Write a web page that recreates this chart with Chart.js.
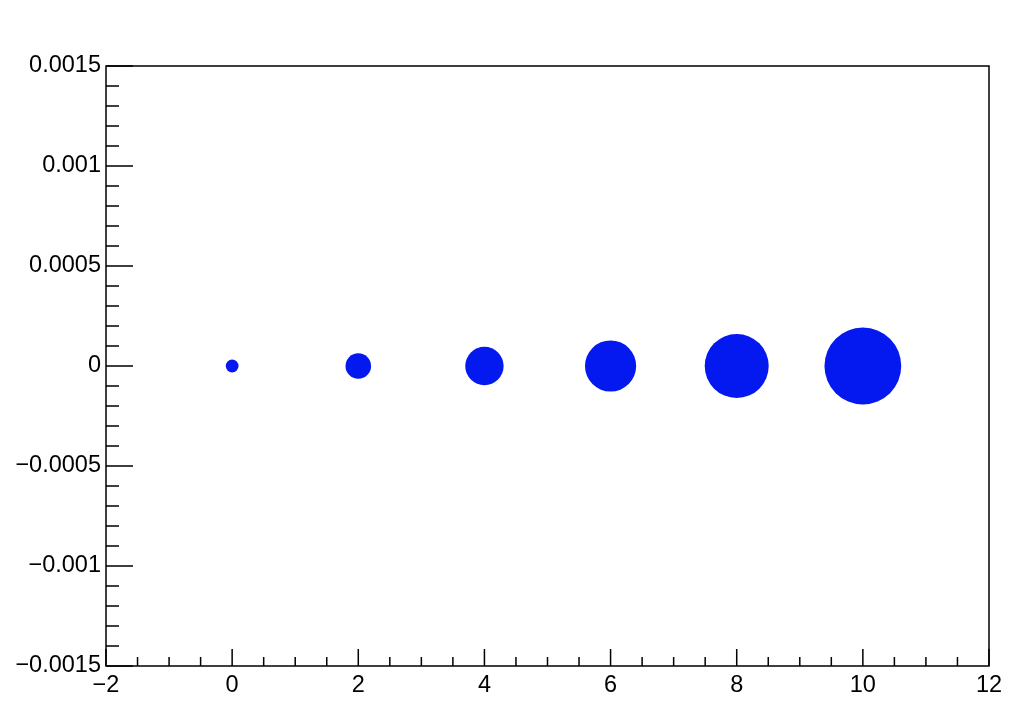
<!DOCTYPE html>
<html>
<head>
<meta charset="utf-8">
<script src="https://cdn.jsdelivr.net/npm/chart.js@4"></script>
<style>
  html, body { margin: 0; padding: 0; background: #fff; }
  #wrap { width: 1033px; height: 714px; }
</style>
</head>
<body>
<div id="wrap"><canvas id="chart" width="1033" height="714"></canvas></div>
<script>
// Bubble data
const xValues = [0, 2, 4, 6, 8, 10];
const yValues = [0, 0, 0, 0, 0, 0];
const radii = [6.4, 12.8, 19.2, 25.6, 32, 38.4];

// Axis ticks
const xTicks = [-2, 0, 2, 4, 6, 8, 10, 12];
const xTickLabels = ['\u22122', '0', '2', '4', '6', '8', '10', '12'];
const yTicks = [-0.0015, -0.001, -0.0005, 0, 0.0005, 0.001, 0.0015];
const yTickLabels = ['\u22120.0015', '\u22120.001', '\u22120.0005', '0', '0.0005', '0.001', '0.0015'];

const FONT = { family: '"Liberation Sans", Arial, Helvetica, sans-serif', size: 23.5 };
const BLUE = 'rgb(4,24,240)';

// ROOT-style inner ticks + frame
const frameTicks = {
  id: 'frameTicks',
  afterDraw(chart) {
    const { ctx, chartArea: a, scales } = chart;
    ctx.save();
    ctx.strokeStyle = '#000';
    ctx.lineWidth = 1.5;
    ctx.strokeRect(a.left, a.top, a.right - a.left, a.bottom - a.top);
    ctx.beginPath();
    // y ticks: major every 0.0005, minor every 0.0001
    for (let i = -15; i <= 15; i++) {
      const y = scales.y.getPixelForValue(i * 0.0001);
      const len = i % 5 === 0 ? 27 : 13;
      ctx.moveTo(a.left, y);
      ctx.lineTo(a.left + len, y);
    }
    // x ticks: major every 2, minor every 0.5
    for (let i = -4; i <= 24; i++) {
      const x = scales.x.getPixelForValue(i * 0.5);
      const len = i % 4 === 0 ? 17 : 9;
      ctx.moveTo(x, a.bottom);
      ctx.lineTo(x, a.bottom - len);
    }
    ctx.stroke();
    ctx.restore();
  }
};

const ctx = document.getElementById('chart').getContext('2d');
new Chart(ctx, {
  type: 'bubble',
  data: {
    datasets: [{
      data: xValues.map((x, i) => ({ x: x, y: yValues[i], r: radii[i] })),
      backgroundColor: BLUE,
      borderWidth: 0,
      hoverRadius: 0
    }]
  },
  options: {
    responsive: false,
    animation: false,
    layout: { padding: { top: 66, right: 44, left: 0, bottom: 0 } },
    plugins: { legend: { display: false }, tooltip: { enabled: false } },
    scales: {
      x: {
        type: 'linear',
        min: -2, max: 12,
        grid: { display: false, drawTicks: false },
        border: { display: false },
        afterBuildTicks: s => { s.ticks = xTicks.map(v => ({ value: v })); },
        afterFit: s => { s.height = 48; },
        ticks: {
          color: '#000', font: FONT, padding: 5, maxRotation: 0, autoSkip: false,
          callback: (v) => xTickLabels[xTicks.indexOf(v)]
        }
      },
      y: {
        type: 'linear',
        min: -0.0015, max: 0.0015,
        grid: { display: false, drawTicks: false },
        border: { display: false },
        afterBuildTicks: s => { s.ticks = yTicks.map(v => ({ value: v })); },
        afterFit: s => { s.width = 106; },
        ticks: {
          color: '#000', font: FONT, padding: 5, autoSkip: false,
          callback: (v) => {
            const i = yTicks.findIndex(t => Math.abs(t - v) < 1e-9);
            return yTickLabels[i];
          }
        }
      }
    }
  },
  plugins: [frameTicks]
});
</script>
</body>
</html>
